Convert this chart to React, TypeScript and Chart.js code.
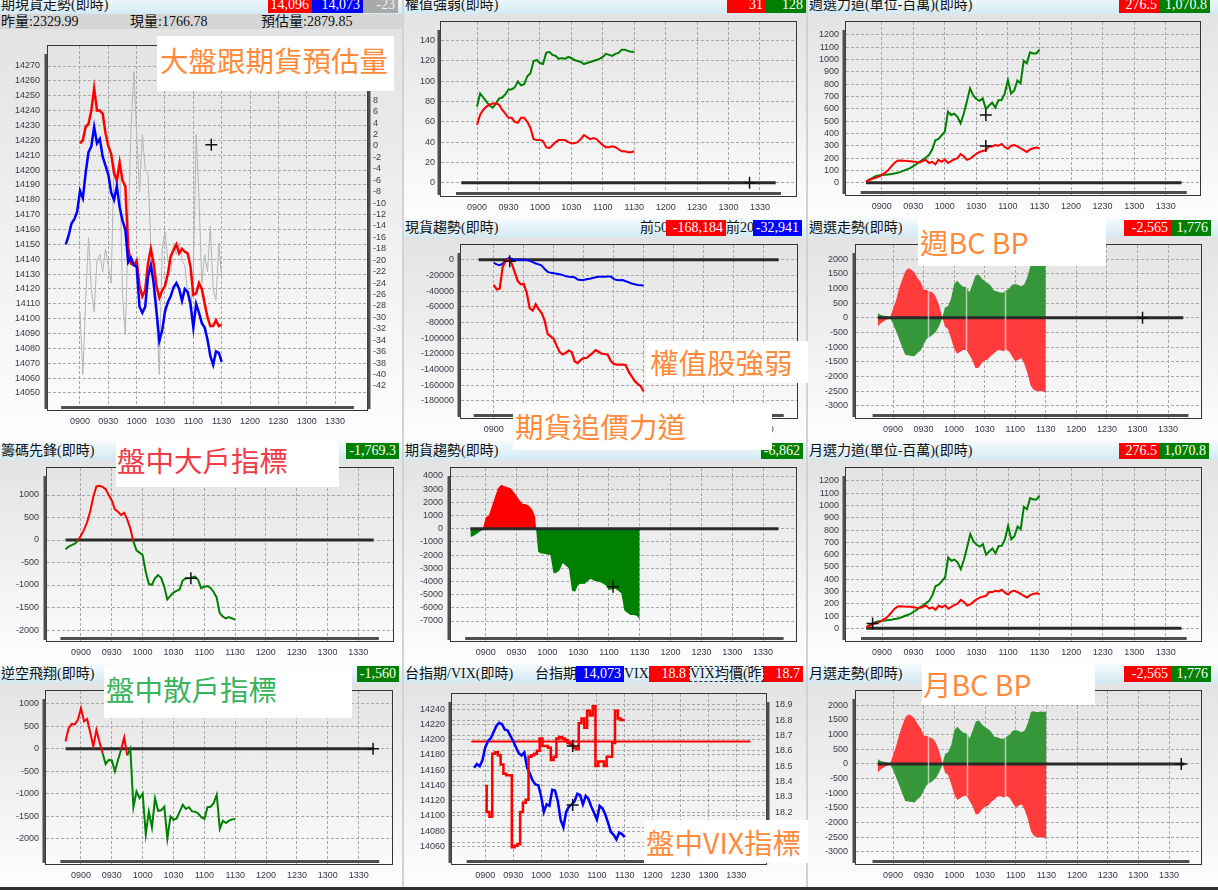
import React, { useEffect, useRef } from "react";
import { Chart, registerables } from "chart.js";

Chart.register(...registerables);

// ---------------- data ----------------
const TIMES = [
  "0845", "0848", "0851", "0854", "0857",
  "0900", "0903", "0906", "0909", "0912", "0915", "0918", "0921", "0924", "0927",
  "0930", "0933", "0936", "0939", "0942", "0945", "0948", "0951", "0954", "0957",
  "1000", "1003", "1006", "1009", "1012", "1015", "1018", "1021", "1024", "1027",
  "1030", "1033", "1036", "1039", "1042", "1045", "1048", "1051", "1054", "1057",
  "1100", "1103", "1106", "1109", "1112", "1115", "1118", "1121", "1124", "1127", "1130",
];
const SESSION = ["0845", "1345"];
const AXIS_BAR = ["0840", "1350"];
const X_TICKS = ["0900", "0930", "1000", "1030", "1100", "1130", "1200", "1230", "1300", "1330"];
const AREA_GAP_TIMES = ["0934", "1012", "1050"];

const A_LEFT_TICKS = [14050, 14060, 14070, 14080, 14090, 14100, 14110, 14120, 14130, 14140, 14150, 14160, 14170, 14180, 14190, 14200, 14210, 14220, 14230, 14240, 14250, 14260, 14270];
const A_RIGHT_TICKS = [-42, -40, -38, -36, -34, -32, -30, -28, -26, -24, -22, -20, -18, -16, -14, -12, -10, -8, -6, -4, -2, 0, 2, 4, 6, 8, 10, 12, 14, 16];
const B_TICKS = [0, 20, 40, 60, 80, 100, 120, 140];
const C_TICKS = [0, 100, 200, 300, 400, 500, 600, 700, 800, 900, 1000, 1100, 1200];
const D_TICKS = [-180000, -160000, -140000, -120000, -100000, -80000, -60000, -40000, -20000, 0];
const E_TICKS = [-3000, -2500, -2000, -1500, -1000, -500, 0, 500, 1000, 1500, 2000];
const F_TICKS = [-2000, -1500, -1000, -500, 0, 500, 1000];
const G_TICKS = [-7000, -6000, -5000, -4000, -3000, -2000, -1000, 0, 1000, 2000, 3000, 4000];
const J_LEFT_TICKS = [14060, 14080, 14100, 14120, 14140, 14160, 14180, 14200, 14220, 14240];
const J_RIGHT_TICKS = [18.0, 18.1, 18.2, 18.3, 18.4, 18.5, 18.6, 18.7, 18.8, 18.9];

// 期現貨走勢
const FUT_A = [14150, 14156, 14164, 14167, 14172,
  14186, 14181, 14198, 14212, 14216, 14229, 14218, 14221, 14209, 14203,
  14197, 14185, 14180, 14189, 14175, 14166, 14160, 14138, 14141, 14136,
  14135, 14108, 14104, 14108, 14128, 14136, 14124, 14105, 14085, 14092,
  14105, 14111, 14115, 14121, 14124, 14120, 14112, 14120, 14118, 14110,
  14094, 14110, 14104, 14097, 14094, 14086, 14075, 14069, 14078, 14077, 14071];
const SPOT_A = [null, null, null, null, null,
  14218, 14220, 14229, 14231, 14240, 14255, 14240, 14240, 14238, 14225,
  14216, 14211, 14198, 14193, 14205, 14193, 14189, 14148, 14137, 14136,
  14139, 14122, 14115, 14119, 14137, 14147, 14137, 14122, 14114, 14119,
  14122, 14130, 14142, 14146, 14150, 14144, 14147, 14145, 14144, 14135,
  14116, 14117, 14124, 14120, 14110, 14101, 14095, 14095, 14099, 14095, 14096];
const DIFF_A = [null, null, null, null, null,
  -29, -40, -27, -16, -25, -29, -20, -19, -22, -18,
  -21, -24, -3, -8, -2, -26, -33, -15, 3, 13,
  2, -8, 2, -4, -5, -17, -26, -30, -40, -18,
  -15, -20, -22, -17, -19, -17, -20, -21, -26, -29,
  -22, 2, -9, -24, -19, -22, -14, -25, -27, -17, -23];

// 權值強弱
const STRONG_GREEN = [null, null, null, null, null,
  75, 88, 84, 80, 76, 74, 78, 83, 84, 87,
  92, 92, 94, 100, 96, 97, 105, 108, 120, 121,
  118, 117, 128, 129, 126, 125, 122, 123, 122, 124,
  123, 121, 120, 119, 117, 118, 119, 120, 121, 122,
  124, 127, 126, 125, 127, 128, 131, 131, 130, 129, 129];
const STRONG_RED = [null, null, null, null, null,
  57, 67, 72, 75, 77, 78, 78, 77, 72, 68,
  64, 64, 60, 59, 64, 64, 60, 54, 43, 42,
  42, 41, 35, 34, 37, 40, 42, 42, 42, 40,
  39, 39, 40, 43, 47, 45, 43, 44, 43, 40,
  37, 35, 35, 36, 35, 33, 31, 31, 30, 30, 31];

// 週選/月選力道
const OPT_GREEN = [8, 25, 38, 52, 58,
  62, 64, 67, 70, 75, 80, 88, 98, 108, 118,
  135, 150, 170, 185, 205, 225, 270, 345, 355, 385,
  414, 577, 550, 560, 536, 482, 560, 660, 767, 710,
  680, 665, 685, 600, 625, 650, 610, 670, 672, 726,
  834, 725, 750, 830, 807, 990, 970, 1060, 1050, 1050, 1080];
const OPT_RED = [8, 20, 32, 40, 48,
  62, 80, 100, 130, 160, 178, 180, 178, 176, 175,
  172, 168, 165, 175, 185, 160, 170, 150, 185, 170,
  188, 160, 175, 190, 200, 232, 215, 185, 195, 215,
  235, 250, 258, 265, 295, 295, 305, 300, 315, 290,
  275, 300, 305, 295, 280, 265, 250, 270, 280, 285, 280];

// 現貨趨勢
const TOP20 = [null, null, null, null, null,
  -4000, -6000, -7000, -5000, -1000, 2000, 1200, -400, -200, 0,
  0, -500, -1300, -3000, -4800, -6000, -7500, -12000, -15500, -16800,
  -17300, -18000, -18700, -19700, -21000, -21700, -22100, -22500, -25300, -25800,
  -26000, -25000, -24300, -23400, -22500, -21900, -21700, -21700, -21300, -21500,
  -24500, -26000, -26200, -26000, -27500, -28800, -30500, -31300, -32200, -32600, -32941];
const TOP50 = [null, null, null, null, null,
  -32000, -38000, -37000, -9000, -1500, 0, -5000, -16000, -27000, -31500,
  -31000, -42000, -62000, -65000, -57000, -63000, -68000, -78000, -95000, -98000,
  -101000, -110000, -118000, -121000, -119000, -116000, -118000, -129800, -131900, -128000,
  -125500, -125500, -122000, -119000, -115500, -117500, -120000, -120400, -121300, -129000,
  -133000, -134000, -134000, -134000, -134500, -143000, -149000, -155000, -158500, -161500, -168184];

// 週選/月選走勢
const BC_RED = [-300, -180, -120, -60, 0,
  300, 600, 1000, 1300, 1580, 1690, 1650, 1560, 1360, 1230,
  970, 950, 900, 870, 720, 450, 60, -300, -380, -700,
  -1050, -1230, -1160, -1100, -1087, -1260, -1450, -1720, -1700, -1550,
  -1460, -1420, -1300, -1220, -1120, -1100, -1144, -1090, -1150, -1320,
  -1480, -1428, -1371, -1580, -1884, -2300, -2454, -2500, -2510, -2490, -2565];
const BP_GREEN = [170, 100, 75, 60, 0,
  -200, -450, -720, -1000, -1260, -1280, -1300, -1314, -1200, -1120,
  -915, -720, -650, -574, -480, -300, -50, 350, 400, 650,
  1150, 1270, 1150, 1060, 1050, 870, 1150, 1450, 1480, 1350,
  1250, 1190, 1100, 930, 907, 870, 860, 930, 1000, 1134,
  1157, 1120, 1077, 1150, 1400, 1780, 1800, 1760, 1790, 1780, 1776];

// 籌碼先鋒
const CHIP = [-207, -145, -115, -80, -10,
  100, 230, 400, 640, 963, 1190, 1205, 1180, 1130, 1000,
  880, 680, 630, 555, 607, 460, 260, -30, -230, -280,
  -333, -700, -970, -1000, -852, -780, -840, -1030, -1320, -1240,
  -1170, -1130, -1100, -900, -852, -852, -830, -815, -885, -1070,
  -1040, -1025, -1060, -1150, -1270, -1620, -1700, -1740, -1710, -1740, -1769];

// 期貨趨勢
const FUT_TREND = [-620, -560, -400, -220, -100,
  860, 1000, 1700, 2400, 3064, 3330, 3250, 3150, 3090, 2800,
  2500, 2150, 1900, 1860, 1750, 1500, 950, -1745, -1871, -1900,
  -1950, -2000, -3385, -3334, -3132, -2600, -2800, -3000, -4700, -4776,
  -4250, -4180, -4190, -4000, -3800, -3930, -4000, -4050, -4150, -4300,
  -4650, -4600, -4550, -4700, -4900, -6200, -6400, -6546, -6546, -6600, -6862];

// 逆空飛翔
const SHORT = [163, 450, 550, 540, 640,
  900, 607, 660, 360, 52, 420, 150, -100, -340, -250,
  -260, -500, -250, -22, 250, -150, 0, -1300, -950, -1100,
  -1000, -1900, -1400, -1750, -1100, -1380, -1370, -1290, -2000, -1504,
  -1578, -1550, -1400, -1244, -1340, -1300, -1393, -1400, -1440, -1520,
  -1560, -1300, -1290, -1210, -1022, -1780, -1600, -1650, -1600, -1570, -1560];

// 台指期 / VIX
const VIX_FUT = [null, 14163, 14168, 14165, 14173,
  14190, 14198, 14202, 14210, 14218, 14222, 14220, 14213, 14212, 14205,
  14198, 14190, 14182, 14179, 14183, 14163, 14155, 14146, 14141, 14140,
  14126, 14105, 14115, 14113, 14134, 14133, 14119, 14095, 14085, 14105,
  14112, 14115, 14119, 14129, 14127, 14115, 14126, 14122, 14112, 14104,
  14095, 14113, 14110, 14102, 14091, 14079, 14075, 14069, 14078, 14076, 14072];
const VIX = [null, null, null, null, null,
  18.37, 18.2, 18.17, 18.58, 18.59, 18.57, 18.51, 18.45, 18.44, 18.44,
  17.97, 17.98, 17.99, 18.2, 18.26, 18.28, 18.56, 18.57, 18.58, 18.6,
  18.68, 18.63, 18.63, 18.62, 18.54, 18.56, 18.68, 18.69, 18.68, 18.67,
  18.65, 18.64, 18.62, 18.61, 18.78, 18.81, 18.75, 18.86, 18.83, 18.89,
  18.5, 18.53, 18.53, 18.5, 18.56, 18.56, 18.65, 18.86, 18.81, 18.8, 18.8];
const VIX_AVG = 18.66;

// cursor crosshairs
const A_CROSS_T = ["1119"]; const A_CROSS_V = [14217];
const B_CROSS_T = ["1320"]; const B_CROSS_V = [0];
const C_CROSS_T = ["1039", "1039"]; const C_CROSS_V = [550, 298];
const D_CROSS_T = ["0916"]; const D_CROSS_V = [-2000];
const E_CROSS_T = ["1305"]; const E_CROSS_V = [0];
const F_CROSS_T = ["1047"]; const F_CROSS_V = [-850];
const G_CROSS_T = ["1104"]; const G_CROSS_V = [-4400];
const H_CROSS_T = ["0851"]; const H_CROSS_V = [40];
const I_CROSS_T = ["1344"]; const I_CROSS_V = [0];
const J_CROSS_T = ["1034"]; const J_CROSS_FUT = [14114]; const J_CROSS_VIX = [18.63];
const K_CROSS_T = ["1342"]; const K_CROSS_V = [0];

// ---------------- style ----------------
const RED = "#ff0000";
const BLUE = "#0000ff";
const GREEN = "#008000";
const GRAY = "#b4b4b4";
const AREA_RED = "#ff3b3b";
const AREA_GREEN = "#36963a";
const ORANGE = "#ff8a3a";
const NOTE_RED = "#f23a46";
const NOTE_GREEN = "#36b35c";
const TICK_COLOR = "#383848";
const GRID_COLOR = "#a8a8a8";
const TICK_FONT = "'Liberation Sans', Arial, sans-serif";
const TITLE_FONT = "'Liberation Serif', 'Noto Sans CJK TC', serif";
const NOTE_FONT = "'Noto Sans CJK TC', 'Noto Sans', sans-serif";
const HEADER_BG = "linear-gradient(to bottom, #f6fbfd 0%, #d3e9f3 100%)";
const BODY_BG = "linear-gradient(to bottom, #e3e3e3 0%, #fdfdfd 100%)";

// ---------------- helpers ----------------
const toMin = (s: string) => Number(s.slice(0, 2)) * 60 + Number(s.slice(2));
const pad2 = (n: number) => String(n).padStart(2, "0");
const fmtTime = (m: number) => pad2(Math.floor(m / 60)) + pad2(Math.round(m % 60));
const series = (vals: (number | null)[]) => TIMES.map((t, i) => ({ x: toMin(t), y: vals[i] }));
const span = (v: number) => SESSION.map((t) => ({ x: toMin(t), y: v }));
const marks = (ts: string[], vs: number[]) => ts.map((t, i) => ({ x: toMin(t), y: vs[i] }));

const line = (data: any[], color: string, width = 2, extra: any = {}) => ({
  data, borderColor: color, backgroundColor: color, borderWidth: width,
  pointRadius: 0, tension: 0, fill: false, spanGaps: false, ...extra,
});
const zero = () => line(span(0), "#2a2a2a", 3);
const cross = (data: any[], yAxisID = "y") => ({
  data, showLine: false, pointStyle: "cross", pointRadius: 6, pointBorderWidth: 1.5,
  pointBorderColor: "#111", borderColor: "#111", backgroundColor: "#111", yAxisID,
});
const signLine = (vals: number[]) => ({
  data: series(vals), borderWidth: 2, pointRadius: 0, tension: 0, fill: false,
  borderColor: GREEN,
  segment: { borderColor: (c: any) => ((c.p0.parsed.y + c.p1.parsed.y) / 2 >= 0 ? RED : GREEN) },
});
const area = (vals: number[], color: string) => ({
  data: series(vals), borderWidth: 0, borderColor: color, pointRadius: 0, tension: 0,
  fill: "origin", backgroundColor: color,
});

type Item = { kind: "box" | "text"; text: string; left: number; width?: number; bg?: string; color?: string; dashed?: boolean };
const box = (text: string, left: number, width: number, bg: string, color = "#ffffff"): Item => ({ kind: "box", text, left, width, bg, color });
const label = (text: string, left: number, width?: number, dashed?: boolean): Item => ({ kind: "text", text, left, width, dashed });

type Axis = { min: number; max: number; ticks: number[]; grid?: boolean; gap?: number; fmt?: (v: number) => string };
type PanelDef = {
  id: string; left: number; top: number; w: number; h: number; bodyTop: number;
  title: string; items: Item[]; sub?: { text: string; left: number }[];
  frame: [number, number, number, number]; xr: [number, number]; gap: number;
  ya: Axis; yb?: Axis; gaps?: boolean; datasets: () => any[];
};

const PANELS: PanelDef[] = [
  {
    id: "A", left: 0, top: -5, w: 402, h: 446, bodyTop: 29, title: "期現貨走勢(即時)",
    items: [box("14,096", 268, 44, RED), box("14,073", 312, 51, BLUE), box("-23", 363, 35, "#a9a9a9", "#f2f2f2")],
    sub: [{ text: "昨量:2329.99", left: 1 }, { text: "現量:1766.78", left: 130 }, { text: "預估量:2879.85", left: 261 }],
    frame: [48, 46, 367, 410], xr: [506.12, 843.88], gap: 8,
    ya: { min: 14038.56, max: 14283.46, ticks: A_LEFT_TICKS },
    yb: { min: -46.2, max: 17.5, ticks: A_RIGHT_TICKS, grid: false, gap: 6 },
    datasets: () => [
      cross(marks(A_CROSS_T, A_CROSS_V)),
      line(series(FUT_A), BLUE, 2.5),
      line(series(SPOT_A), RED, 2.5),
      line(series(DIFF_A), GRAY, 1, { yAxisID: "y2" }),
    ],
  },
  {
    id: "B", left: 404, top: -5, w: 402, h: 223, bodyTop: 14, title: "權值強弱(即時)",
    items: [box("31", 323, 39, RED), box("128", 362, 40, GREEN)],
    frame: [441, 22, 796, 196], xr: [505.65, 844.35], gap: 6,
    ya: { min: -13.11, max: 158.44, ticks: B_TICKS },
    datasets: () => [
      cross(marks(B_CROSS_T, B_CROSS_V)),
      line(series(STRONG_RED), RED, 2),
      line(series(STRONG_GREEN), GREEN, 2),
      zero(),
    ],
  },
  {
    id: "C", left: 808, top: -5, w: 410, h: 223, bodyTop: 14, title: "週選力道(單位-百萬)(即時)",
    items: [box("276.5", 311, 41, RED), box("1,070.8", 352, 50, GREEN)],
    frame: [846, 22, 1200, 195], xr: [506.06, 842.61], gap: 7,
    ya: { min: -99.9, max: 1305.6, ticks: C_TICKS },
    datasets: () => [
      cross(marks(C_CROSS_T, C_CROSS_V)),
      line(series(OPT_RED), RED, 2),
      line(series(OPT_GREEN), GREEN, 2),
      zero(),
    ],
  },
  {
    id: "D", left: 404, top: 218, w: 402, h: 223, bodyTop: 237, title: "現貨趨勢(即時)",
    items: [label("前50", 236), box("-168,184", 262, 60, RED), label("前20", 322), box("-32,941", 349, 49, BLUE)],
    frame: [461, 245, 797, 418], xr: [507.3, 843.3], gap: 7,
    ya: { min: -202085, max: 18766, ticks: D_TICKS },
    datasets: () => [
      cross(marks(D_CROSS_T, D_CROSS_V)),
      line(series(TOP50), RED, 2.2),
      line(series(TOP20), BLUE, 2),
      zero(),
    ],
  },
  {
    id: "E", left: 808, top: 218, w: 410, h: 223, bodyTop: 237, title: "週選走勢(即時)",
    items: [box("-2,565", 316, 47, RED), box("1,776", 363, 40, GREEN)],
    frame: [856, 245, 1201, 418], xr: [503.67, 842.4], gap: 8, gaps: true,
    ya: { min: -3420, max: 2488, ticks: E_TICKS },
    datasets: () => [
      cross(marks(E_CROSS_T, E_CROSS_V)),
      zero(),
      area(BC_RED, AREA_RED),
      area(BP_GREEN, AREA_GREEN),
    ],
  },
  {
    id: "F", left: 0, top: 441, w: 402, h: 223, bodyTop: 460, title: "籌碼先鋒(即時)",
    items: [box("-1,769.3", 346, 53, GREEN)],
    frame: [47, 468, 393, 641], xr: [506.9, 843.8], gap: 8,
    ya: { min: -2244, max: 1600, ticks: F_TICKS },
    datasets: () => [cross(marks(F_CROSS_T, F_CROSS_V)), signLine(CHIP), zero()],
  },
  {
    id: "G", left: 404, top: 441, w: 402, h: 223, bodyTop: 460, title: "期貨趨勢(即時)",
    items: [box("-6,862", 357, 42, GREEN)],
    frame: [451, 468, 796, 641], xr: [506.2, 842.1], gap: 8,
    ya: { min: -8517, max: 4607, ticks: G_TICKS },
    datasets: () => [
      cross(marks(G_CROSS_T, G_CROSS_V)),
      zero(),
      {
        data: series(FUT_TREND), borderWidth: 0, borderColor: "rgba(0,0,0,0)", pointRadius: 0, tension: 0,
        fill: { target: "origin", above: RED, below: GREEN },
      },
    ],
  },
  {
    id: "H", left: 808, top: 441, w: 410, h: 223, bodyTop: 460, title: "月選力道(單位-百萬)(即時)",
    items: [box("276.5", 311, 41, RED), box("1,070.8", 352, 49, GREEN)],
    frame: [846, 468, 1201, 641], xr: [505.7, 843.6], gap: 7,
    ya: { min: -103.5, max: 1305.9, ticks: C_TICKS },
    datasets: () => [
      cross(marks(H_CROSS_T, H_CROSS_V)),
      line(series(OPT_RED), RED, 2),
      line(series(OPT_GREEN), GREEN, 2),
      zero(),
    ],
  },
  {
    id: "I", left: 0, top: 664, w: 402, h: 223, bodyTop: 683, title: "逆空飛翔(即時)",
    items: [box("-1,560", 357, 42, GREEN)],
    frame: [46, 691, 392, 864], xr: [506, 842.4], gap: 7,
    ya: { min: -2562, max: 1282, ticks: F_TICKS },
    datasets: () => [cross(marks(I_CROSS_T, I_CROSS_V)), signLine(SHORT), zero()],
  },
  {
    id: "J", left: 404, top: 664, w: 402, h: 223, bodyTop: 683, title: "台指期/VIX(即時)",
    items: [
      label("台指期", 131), box("14,073", 172, 48, BLUE), label("VIX", 220), box("18.8", 245, 40, RED),
      label("VIX均價(昨)", 285, 75, true), box("18.7", 360, 39, RED),
    ],
    frame: [452, 694, 766, 864], xr: [504.2, 841.9], gap: 7,
    ya: { min: 14036.8, max: 14259.7, ticks: J_LEFT_TICKS },
    yb: { min: 17.861, max: 18.97, ticks: J_RIGHT_TICKS, grid: true, gap: 9, fmt: (v) => v.toFixed(1) },
    datasets: () => [
      cross(marks(J_CROSS_T, J_CROSS_FUT)),
      cross(marks(J_CROSS_T, J_CROSS_VIX), "y2"),
      line(series(VIX), RED, 2.5, { yAxisID: "y2", stepped: "middle" }),
      line(series(VIX_FUT), BLUE, 2.5),
      line(span(VIX_AVG), RED, 2, { yAxisID: "y2" }),
    ],
  },
  {
    id: "K", left: 808, top: 664, w: 410, h: 223, bodyTop: 683, title: "月選走勢(即時)",
    items: [box("-2,565", 316, 47, RED), box("1,776", 363, 40, GREEN)],
    frame: [856, 691, 1201, 864], xr: [503.8, 841.3], gap: 8, gaps: true,
    ya: { min: -3409, max: 2487, ticks: E_TICKS },
    datasets: () => [
      cross(marks(K_CROSS_T, K_CROSS_V)),
      zero(),
      area(BC_RED, AREA_RED),
      area(BP_GREEN, AREA_GREEN),
    ],
  },
];

const NOTES = [
  { text: "大盤跟期貨預估量", x: 157, y: 36, w: 237, h: 55, color: ORANGE, pad: 3, dy: -4 },
  { text: "權值股強弱", x: 646, y: 341, w: 162, h: 42, color: ORANGE, pad: 4, dy: 0 },
  { text: "期貨追價力道", x: 513, y: 405, w: 259, h: 45, color: ORANGE, pad: 2, dy: -2 },
  { text: "週BC BP", x: 918, y: 218, w: 188, h: 48, color: ORANGE, pad: 2, dy: 0 },
  { text: "盤中大戶指標", x: 116, y: 441, w: 223, h: 46, color: NOTE_RED, pad: 1, dy: -4 },
  { text: "盤中散戶指標", x: 104, y: 665, w: 248, h: 53, color: NOTE_GREEN, pad: 2, dy: -3 },
  { text: "盤中VIX指標", x: 644, y: 820, w: 164, h: 43, color: ORANGE, pad: 2, dy: 0 },
  { text: "月BC BP", x: 922, y: 663, w: 173, h: 42, color: ORANGE, pad: 1, dy: 0 },
];

// ---------------- chart config ----------------
const interp = (vals: number[], t: number) => {
  const xs = TIMES.map(toMin);
  for (let i = 0; i < xs.length - 1; i++) {
    if (t >= xs[i] && t <= xs[i + 1]) {
      const f = (t - xs[i]) / (xs[i + 1] - xs[i]);
      return vals[i] + f * (vals[i + 1] - vals[i]);
    }
  }
  return 0;
};

function framePlugin(hasRight: boolean, gaps: boolean) {
  return {
    id: "frameDecor",
    afterDatasetsDraw(chart: any) {
      if (!gaps) return;
      const { ctx, scales } = chart;
      ctx.save();
      ctx.strokeStyle = "rgba(255,255,255,0.6)";
      ctx.lineWidth = 1.5;
      AREA_GAP_TIMES.forEach((s) => {
        const t = toMin(s);
        const r = interp(BC_RED, t);
        const g = interp(BP_GREEN, t);
        const x = Math.round(scales.x.getPixelForValue(t)) + 0.5;
        ctx.beginPath();
        ctx.moveTo(x, scales.y.getPixelForValue(Math.max(r, g)));
        ctx.lineTo(x, scales.y.getPixelForValue(Math.min(r, g)));
        ctx.stroke();
      });
      ctx.restore();
    },
    afterDraw(chart: any) {
      const { ctx, chartArea: a, scales } = chart;
      const xs = scales.x;
      ctx.save();
      ctx.strokeStyle = "#353535";
      ctx.lineWidth = 1;
      ctx.strokeRect(Math.round(a.left) - 0.5, Math.round(a.top) - 0.5, Math.round(a.width) + 1, Math.round(a.height) + 1);
      ctx.strokeStyle = "#4e4e4e";
      ctx.lineWidth = 3;
      ctx.beginPath();
      ctx.moveTo(a.left - 2, a.top + 8);
      ctx.lineTo(a.left - 2, a.bottom - 1);
      if (hasRight) {
        ctx.moveTo(a.right + 2, a.top + 8);
        ctx.lineTo(a.right + 2, a.bottom - 1);
      }
      const b0 = toMin(AXIS_BAR[0]);
      const b1 = toMin(AXIS_BAR[1]);
      ctx.moveTo(xs.getPixelForValue(b0), a.bottom - 2.5);
      ctx.lineTo(xs.getPixelForValue(b1), a.bottom - 2.5);
      ctx.stroke();
      ctx.restore();
    },
  };
}

function buildConfig(p: PanelDef): any {
  const canvasH = p.top + p.h - p.bodyTop;
  const [fl, ft, fr, fb] = p.frame;
  const leftW = fl - p.left;
  const rightSpace = p.left + p.w - fr;
  const bottomH = p.bodyTop + canvasH - fb;
  const zeroPad = (s: any) => {
    s.paddingLeft = 0; s.paddingRight = 0; s.paddingTop = 0; s.paddingBottom = 0;
  };
  const tickFont = { family: TICK_FONT, size: 9 };
  const grid = (on: boolean) => ({ display: true, drawOnChartArea: on, drawTicks: false, color: GRID_COLOR, lineWidth: 1 });
  const border = { display: false, dash: [3, 2] };
  const yAxis = (ax: Axis, position: string, width: number, gap: number) => {
    const tickVals = ax.ticks.slice();
    const fmt = ax.fmt;
    return {
      type: "linear", position, min: ax.min, max: ax.max, bounds: "data",
      afterBuildTicks: (s: any) => { s.ticks = tickVals.map((v) => ({ value: v })); },
      afterFit: (s: any) => { s.width = width; zeroPad(s); },
      ticks: {
        padding: gap, color: TICK_COLOR, font: tickFont, autoSkip: false,
        callback: (v: any) => (fmt ? fmt(Number(v)) : String(v)),
      },
      grid: grid(ax.grid !== false), border,
    };
  };
  const scales: any = {
    x: {
      type: "linear", min: p.xr[0], max: p.xr[1], bounds: "data",
      afterBuildTicks: (s: any) => { s.ticks = X_TICKS.map((t) => ({ value: toMin(t) })); },
      afterFit: (s: any) => { s.height = bottomH; zeroPad(s); },
      ticks: {
        padding: 6, color: TICK_COLOR, font: tickFont, autoSkip: false, maxRotation: 0, minRotation: 0,
        callback: (v: any) => fmtTime(Number(v)),
      },
      grid: grid(true), border,
    },
    y: yAxis(p.ya, "left", leftW, p.gap),
  };
  if (p.yb) scales.y2 = yAxis(p.yb, "right", rightSpace, p.yb.gap ?? 7);
  return {
    type: "line",
    data: { datasets: p.datasets() },
    options: {
      responsive: false, maintainAspectRatio: false, animation: false, events: [],
      layout: { padding: { left: 0, top: ft - p.bodyTop, right: p.yb ? 0 : rightSpace, bottom: 0 } },
      plugins: { legend: { display: false }, tooltip: { enabled: false } },
      scales,
    },
    plugins: [framePlugin(!!p.yb, !!p.gaps)],
  };
}

// ---------------- components ----------------
function Header({ p }: { p: PanelDef }) {
  return (
    <div style={{ position: "absolute", left: 0, top: 0, width: p.w, height: 19, background: HEADER_BG, overflow: "hidden" }}>
      <span style={{ position: "absolute", left: 1, top: 0, lineHeight: "19px", fontSize: 14, fontFamily: TITLE_FONT, color: "#111", whiteSpace: "nowrap" }}>
        {p.title}
      </span>
      {p.items.map((it, i) =>
        it.kind === "box" ? (
          <div key={i} style={{
            position: "absolute", left: it.left, top: 2, width: it.width, height: 16, background: it.bg, color: it.color,
            fontFamily: TITLE_FONT, fontSize: 14, lineHeight: "16px", textAlign: "right", paddingRight: 3,
            boxSizing: "border-box", whiteSpace: "nowrap",
          }}>{it.text}</div>
        ) : (
          <div key={i} style={{
            position: "absolute", left: it.left, top: it.dashed ? 2 : 0, width: it.width, height: it.dashed ? 16 : 19,
            lineHeight: it.dashed ? "14px" : "19px", fontFamily: TITLE_FONT, fontSize: 14, color: "#111",
            whiteSpace: "nowrap", boxSizing: "border-box", border: it.dashed ? "1px dashed #333" : "none",
          }}>{it.text}</div>
        )
      )}
    </div>
  );
}

function Panel({ p }: { p: PanelDef }) {
  const ref = useRef<HTMLCanvasElement>(null);
  const canvasH = p.top + p.h - p.bodyTop;
  const bodyRel = p.bodyTop - p.top;
  useEffect(() => {
    if (!ref.current) return;
    const chart = new Chart(ref.current, buildConfig(p));
    return () => chart.destroy();
  }, [p]);
  return (
    <div style={{ position: "absolute", left: p.left, top: p.top, width: p.w, height: p.h, overflow: "hidden" }}>
      <div style={{ position: "absolute", left: 0, top: bodyRel, width: p.w, height: canvasH, background: BODY_BG }} />
      <canvas ref={ref} width={p.w} height={canvasH}
        style={{ position: "absolute", left: 0, top: bodyRel, width: p.w, height: canvasH }} />
      <Header p={p} />
      {p.sub && (
        <div style={{ position: "absolute", left: 0, top: 19, width: p.w, height: 15, background: "#d6d6d6" }}>
          {p.sub.map((s, i) => (
            <span key={i} style={{ position: "absolute", left: s.left, top: 0, lineHeight: "15px", fontSize: 14, fontFamily: TITLE_FONT, color: "#111", whiteSpace: "nowrap" }}>
              {s.text}
            </span>
          ))}
        </div>
      )}
    </div>
  );
}

export default function App() {
  return (
    <div style={{ position: "fixed", left: 0, top: 0, width: 1218, height: 890, overflow: "hidden", background: "#cfd3d6" }}>
      {PANELS.map((p) => <Panel key={p.id} p={p} />)}
      {NOTES.map((n, i) => (
        <div key={i} style={{ position: "absolute", left: n.x, top: n.y, width: n.w, height: n.h, background: "#ffffff", zIndex: 5, overflow: "hidden" }}>
          <span style={{
            position: "absolute", left: n.pad, top: n.h / 2 + n.dy, transform: "translateY(-50%)",
            fontFamily: NOTE_FONT, fontSize: 28.5, lineHeight: 1, color: n.color, whiteSpace: "nowrap",
          }}>{n.text}</span>
        </div>
      ))}
      <div style={{ position: "absolute", left: 0, top: 887, width: 1218, height: 3, background: "#2f2f2f" }} />
    </div>
  );
}
